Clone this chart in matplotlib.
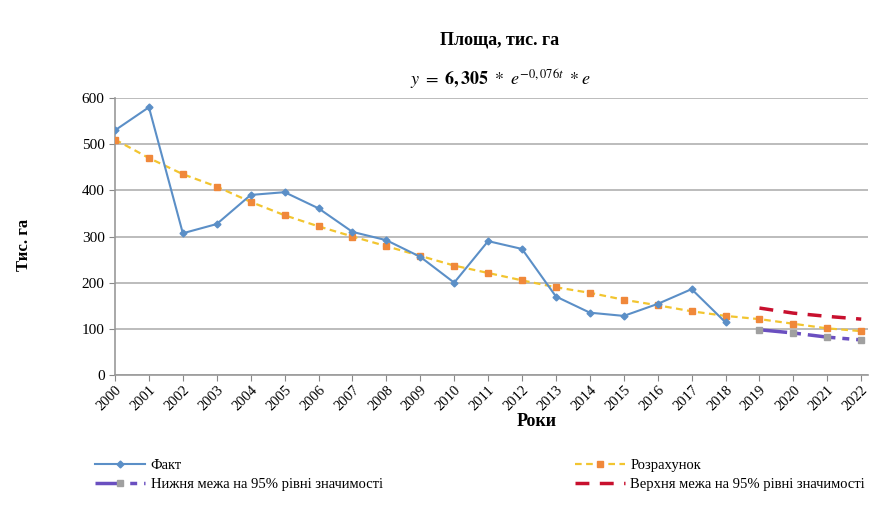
import numpy as np
import matplotlib.pyplot as plt

# Дані
years = list(range(2000, 2023))
fact_years = list(range(2000, 2019))
fact = [530, 580, 307, 327, 390, 396, 361, 310, 292, 256, 200, 290, 273, 170, 135, 128, 154, 186, 114]
calc = [510, 470, 435, 408, 375, 346, 322, 300, 279, 258, 237, 221, 205, 190, 178, 163, 151, 138, 128, 121, 111, 101, 95]
bound_years = [2019, 2020, 2021, 2022]
lower = [98, 91, 82, 76]
upper = [145, 134, 127, 121]

plt.rcParams['font.family'] = ['Liberation Serif', 'DejaVu Serif']
plt.rcParams['mathtext.fontset'] = 'stix'

fig = plt.figure(figsize=(8.78, 5.19), dpi=100)
ax = fig.add_axes([115 / 878, 1 - 375 / 519, (868 - 115) / 878, (375 - 98) / 519])

l_fact, = ax.plot(fact_years, fact, color='#5b8fc7', lw=1.5, marker='D', ms=3.5,
                  label='Факт', zorder=4)
l_calc, = ax.plot(years, calc, color='#f2c530', lw=1.6, ls=(0, (3, 2)), marker='s', ms=5,
                  mfc='#f0883a', mec='#f0883a', label='Розрахунок', zorder=3)
l_low, = ax.plot(bound_years, lower, color='#6a4fc0', lw=2.5, ls=(0, (8, 2, 2, 2)), marker='s', ms=5,
                 mfc='#a0a0a0', mec='#a0a0a0', label='Нижня межа на 95% рівні значимості', zorder=3)
l_up, = ax.plot(bound_years, upper, color='#c8102e', lw=2.5, ls=(0, (4, 3)),
                label='Верхня межа на 95% рівні значимості', zorder=3)

ax.set_xlim(2000, 2022.2)
ax.set_ylim(0, 600)
ax.set_yticks(np.arange(0, 601, 100))
ax.set_xticks(years)
ax.set_xticklabels([str(y) for y in years], rotation=45, ha='right', rotation_mode='anchor', fontsize=10.5)
ax.tick_params(axis='y', labelsize=11, length=4, color='#888888')
ax.tick_params(axis='x', length=4, color='#888888', pad=2)
ax.grid(axis='y', color='#b0b0b0', lw=1.2)
ax.set_axisbelow(True)
for s in ['top', 'right']:
    ax.spines[s].set_visible(False)
for s in ['left', 'bottom']:
    ax.spines[s].set_color('#999999')
    ax.spines[s].set_linewidth(1.2)

fig.text(24 / 878, 1 - 245 / 519, 'Тис. га', fontsize=12, fontweight='bold',
         rotation=90, ha='center', va='center')
fig.text(537 / 878, 1 - 422 / 519, 'Роки', fontsize=13, fontweight='bold', ha='center', va='center')

fig.text(500 / 878, 1 - 40 / 519, 'Площа, тис. га', fontsize=13, fontweight='bold', ha='center', va='center')
fig.text(500 / 878, 1 - 80 / 519, r'$\mathit{y}\ =\ \mathbf{6,305}\ *\ e^{-0,076t}\ *e$',
         fontsize=13, ha='center', va='center')

fig.legend([l_fact, l_low, l_calc, l_up],
           [l_fact.get_label(), l_low.get_label(), l_calc.get_label(), l_up.get_label()],
           loc='upper left', bbox_to_anchor=(82 / 878, 1 - 446 / 519), ncol=2,
           frameon=False, fontsize=10.5, handlelength=3.4, columnspacing=13.2,
           labelspacing=0.4, handletextpad=0.4)

fig.savefig('out.png', dpi=100)
